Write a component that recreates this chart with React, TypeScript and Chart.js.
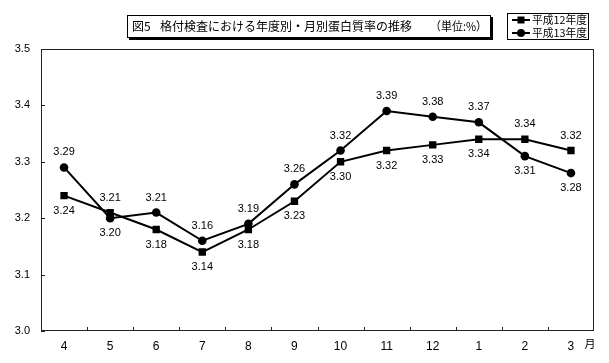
import React, { useEffect, useRef } from 'react';
import { Chart, registerables } from 'chart.js';

Chart.register(...registerables);

const months = ['4', '5', '6', '7', '8', '9', '10', '11', '12', '1', '2', '3'];
const series12 = [3.24, 3.21, 3.18, 3.14, 3.18, 3.23, 3.30, 3.32, 3.33, 3.34, 3.34, 3.32];
const series13 = [3.29, 3.20, 3.21, 3.16, 3.19, 3.26, 3.32, 3.39, 3.38, 3.37, 3.31, 3.28];
const seriesNames = ['平成12年度', '平成13年度'];
const yTicks = [3.0, 3.1, 3.2, 3.3, 3.4, 3.5];
const titleFig = '図5';
const titleMain = '格付検査における年度別・月別蛋白質率の推移';
const titleUnit = '（単位:%）';
const xUnit = '月';

const JP = "'Noto Sans CJK JP', 'Noto Sans', sans-serif";
const NUM = "'Liberation Sans', Arial, sans-serif";

const decorPlugin = {
  id: 'decor',
  afterDatasetsDraw(chart: any) {
    const { ctx } = chart;
    const m0 = chart.getDatasetMeta(0).data;
    const m1 = chart.getDatasetMeta(1).data;
    const d0 = chart.data.datasets[0].data as number[];
    const d1 = chart.data.datasets[1].data as number[];
    ctx.save();
    ctx.fillStyle = '#000';
    ctx.font = `11px ${NUM}`;
    ctx.textAlign = 'center';
    ctx.textBaseline = 'middle';
    for (let i = 0; i < d0.length; i++) {
      const hi0 = d0[i] >= d1[i];
      const p0 = m0[i];
      const p1 = m1[i];
      ctx.fillText(d0[i].toFixed(2), p0.x, p0.y + (hi0 ? -15 : 15));
      ctx.fillText(d1[i].toFixed(2), p1.x, p1.y + (hi0 ? 15 : -15));
    }
    ctx.restore();
  },
  afterDraw(chart: any) {
    const { ctx, chartArea: ca, scales } = chart;
    ctx.save();
    // plot border
    ctx.strokeStyle = '#222';
    ctx.lineWidth = 1;
    ctx.strokeRect(ca.left + 0.5, ca.top + 0.5, ca.right - ca.left - 1, ca.bottom - ca.top - 1);
    // inner ticks
    ctx.beginPath();
    yTicks.forEach((v) => {
      const y = Math.round(scales.y.getPixelForValue(v)) + 0.5;
      ctx.moveTo(ca.left, y);
      ctx.lineTo(ca.left + 4, y);
    });
    for (let i = 1; i < months.length; i++) {
      const x = Math.round((scales.x.getPixelForValue(i - 1) + scales.x.getPixelForValue(i)) / 2) + 0.5;
      ctx.moveTo(x, ca.bottom);
      ctx.lineTo(x, ca.bottom - 4);
    }
    ctx.stroke();

    // x unit
    ctx.fillStyle = '#000';
    ctx.font = `11px ${JP}`;
    ctx.textAlign = 'center';
    ctx.textBaseline = 'middle';
    ctx.fillText(xUnit, 590, 344);

    // title box with shadow
    const tx = 127, ty = 15, tw = 364, th = 23;
    ctx.fillStyle = '#000';
    ctx.fillRect(tx + 2, ty + 2, tw, th);
    ctx.fillStyle = '#fff';
    ctx.fillRect(tx, ty, tw, th);
    ctx.strokeStyle = '#000';
    ctx.strokeRect(tx + 0.5, ty + 0.5, tw - 1, th - 1);
    ctx.fillStyle = '#000';
    ctx.textAlign = 'left';
    ctx.font = `12px ${JP}`;
    ctx.fillText(titleFig, 132, ty + th / 2);
    ctx.fillText(titleMain, 160, ty + th / 2);
    ctx.fillText(titleUnit, 430, ty + th / 2, 57);

    // legend box
    const lx = 507, ly = 13, lw = 82, lh = 27;
    ctx.fillStyle = '#fff';
    ctx.fillRect(lx, ly, lw, lh);
    ctx.strokeRect(lx + 0.5, ly + 0.5, lw - 1, lh - 1);
    ctx.fillStyle = '#000';
    ctx.font = `11px ${JP}`;
    ctx.lineWidth = 2;
    [20, 33].forEach((yy, k) => {
      ctx.beginPath();
      ctx.moveTo(512, yy);
      ctx.lineTo(530, yy);
      ctx.stroke();
      if (k === 0) {
        ctx.fillRect(517.5, yy - 3.5, 7, 7);
      } else {
        ctx.beginPath();
        ctx.arc(521, yy, 4, 0, Math.PI * 2);
        ctx.fill();
      }
      ctx.fillText(seriesNames[k], 532, yy, 55);
    });
    ctx.restore();
  },
};

export default function App() {
  const ref = useRef<HTMLCanvasElement>(null);
  useEffect(() => {
    if (!ref.current) return;
    const chart = new Chart(ref.current, {
      type: 'line',
      data: {
        labels: months,
        datasets: [
          {
            label: seriesNames[0],
            data: series12,
            borderColor: '#000',
            backgroundColor: '#000',
            borderWidth: 2,
            pointStyle: 'rect',
            pointRadius: 5.2,
            pointBorderWidth: 0,
            tension: 0,
          },
          {
            label: seriesNames[1],
            data: series13,
            borderColor: '#000',
            backgroundColor: '#000',
            borderWidth: 2,
            pointStyle: 'circle',
            pointRadius: 4.3,
            pointBorderWidth: 0,
            tension: 0,
          },
        ],
      },
      options: {
        responsive: false,
        animation: false,
        layout: { padding: { top: 49, right: 15, left: 0, bottom: 0 } },
        plugins: {
          legend: { display: false },
          title: { display: false },
          tooltip: { enabled: false },
        },
        scales: {
          x: {
            type: 'category',
            offset: true,
            grid: { display: false, drawTicks: false },
            border: { display: false },
            ticks: {
              color: '#000',
              font: { family: NUM, size: 12 },
              padding: 8,
              maxRotation: 0,
              autoSkip: false,
            },
            afterFit: (s: any) => {
              s.height = 32;
            },
          },
          y: {
            min: 3.0,
            max: 3.5,
            grid: { display: false, drawTicks: false },
            border: { display: false },
            ticks: {
              stepSize: 0.1,
              color: '#000',
              font: { family: NUM, size: 11 },
              padding: 11,
              callback: (v: any) => Number(v).toFixed(1),
            },
            afterFit: (s: any) => {
              s.width = 41;
            },
          },
        },
      },
      plugins: [decorPlugin],
    });
    return () => chart.destroy();
  }, []);
  return (
    <div style={{ position: 'fixed', left: 0, top: 0, width: 609, height: 363, background: '#fff' }}>
      <canvas ref={ref} width={609} height={363} style={{ display: 'block' }} />
    </div>
  );
}
